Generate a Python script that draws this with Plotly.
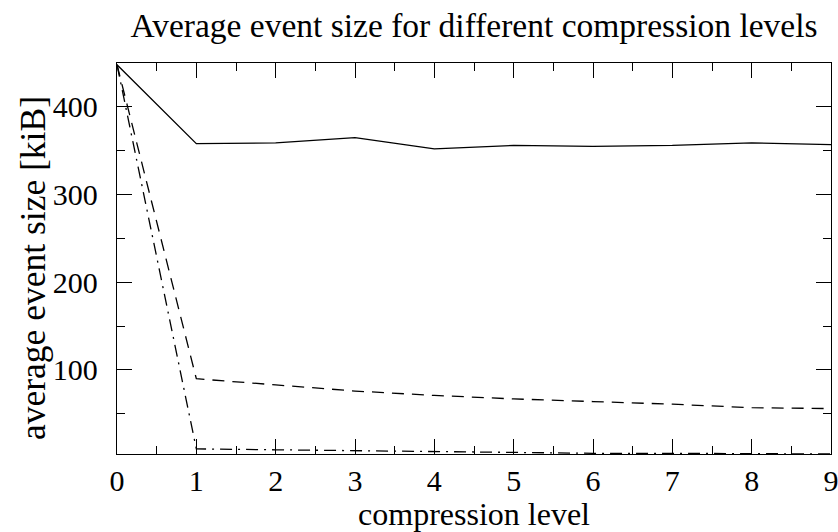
import plotly.graph_objects as go

levels = [0, 1, 2, 3, 4, 5, 6, 7, 8, 9]
solid_vals = [448, 358, 359, 365, 352, 356, 355, 356, 359, 357]
dashed_vals = [448, 90, 83, 76, 71, 67, 64, 61, 57, 56]
dashdot_vals = [448, 10, 9, 8, 7, 6, 5, 5, 4.5, 4.2]

fig = go.Figure()
fig.add_trace(go.Scatter(x=levels, y=solid_vals, mode="lines",
                         line=dict(color="black", width=1.3, dash="solid")))
fig.add_trace(go.Scatter(x=levels, y=dashed_vals, mode="lines",
                         line=dict(color="black", width=1.3, dash="12px,8px")))
fig.add_trace(go.Scatter(x=levels, y=dashdot_vals, mode="lines",
                         line=dict(color="black", width=1.3, dash="12px,6px,2px,6px")))

font = "Liberation Serif"
fig.update_layout(
    width=838, height=532,
    margin=dict(l=117, r=7, t=63, b=78),
    paper_bgcolor="white", plot_bgcolor="white",
    showlegend=False,
    font=dict(family=font, color="black", size=30),
    title=dict(text="Average event size for different compression levels",
               x=0.5656, xanchor="center", y=1 - 25 / 532, yanchor="middle",
               font=dict(family=font, size=33.5, color="black")),
    annotations=[dict(text="average event size [kiB]", textangle=-90,
                      xref="paper", yref="paper", x=(33 - 117) / 714, y=(454 - 268) / 391,
                      xanchor="center", yanchor="middle", showarrow=False,
                      font=dict(family=font, size=35.5, color="black"))],
)
fig.update_xaxes(
    range=[0, 9], tickvals=levels, ticks="inside", ticklen=15, tickwidth=1.3,
    tickcolor="black", showline=True, linecolor="black", linewidth=1.3,
    mirror="allticks", showgrid=False, zeroline=False, automargin=False,
    minor=dict(dtick=0.5, ticks="inside", ticklen=8, tickwidth=1.3, tickcolor="black", showgrid=False),
    title=dict(text="compression level", font=dict(size=32), standoff=0),
    tickfont=dict(size=30), ticklabelstandoff=0, ticklabeloverflow="allow",
)
fig.update_yaxes(
    range=[4.2, 450], tickvals=[100, 200, 300, 400], ticks="inside", ticklen=15, tickwidth=1.3,
    tickcolor="black", showline=True, linecolor="black", linewidth=1.3,
    mirror="allticks", showgrid=False, zeroline=False, automargin=False,
    minor=dict(dtick=50, tick0=0, ticks="inside", ticklen=8, tickwidth=1.3, tickcolor="black", showgrid=False),
    tickfont=dict(size=30), ticklabelstandoff=12,
)
fig.write_html("out.html")
